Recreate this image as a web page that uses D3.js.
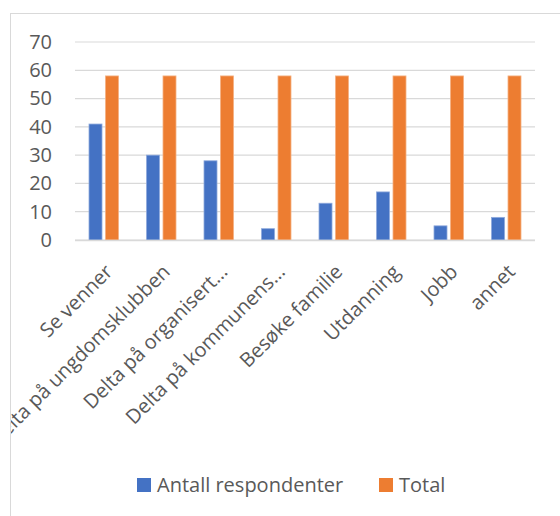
<!DOCTYPE html>
<html><head><meta charset="utf-8">
<script src="https://cdn.jsdelivr.net/npm/d3@7"></script>
<style>body{margin:0;background:#fff;} text{font-family:"Open Sans",sans-serif;}</style>
</head><body>
<svg id="c" width="560" height="516"></svg>
<script>
const categories = ["Se venner","Delta på ungdomsklubben","Delta på organisert…","Delta på kommunens…","Besøke familie","Utdanning","Jobb","annet"];
const seriesNames = ["Antall respondenter","Total"];
const antall = [41,30,28,4,13,17,5,8];
const total = [58,58,58,58,58,58,58,58];
const yTicks = [0,10,20,30,40,50,60,70];
const colors = ["#4472C4","#ED7D31"];

const svg = d3.select("#c");
svg.append("defs").append("clipPath").attr("id","clip")
  .append("rect").attr("x",11).attr("y",14).attr("width",560).attr("height",516);
// chart border
svg.append("line").attr("x1",10.5).attr("x2",10.5).attr("y1",13).attr("y2",516).attr("stroke","#d9d9d9").attr("stroke-width",1);
svg.append("line").attr("x1",10).attr("x2",560).attr("y1",13.5).attr("y2",13.5).attr("stroke","#d9d9d9").attr("stroke-width",1);

const x = d3.scaleBand().domain(categories).range([75,535]);
const y = d3.scaleLinear().domain([0,70]).range([240,42]);

const g = svg.append("g").attr("clip-path","url(#clip)");
// gridlines
g.selectAll(".grid").data(yTicks).join("line")
  .attr("x1",75).attr("x2",535).attr("y1",d=>y(d)).attr("y2",d=>y(d))
  .attr("stroke","#d9d9d9").attr("stroke-width",1.2);
// y labels
const yAxis = d3.axisLeft(y).tickValues(yTicks).tickSize(0).tickPadding(0);
const ya = g.append("g").attr("transform","translate(52,0)").call(yAxis);
ya.select(".domain").remove();
ya.selectAll("text").attr("font-size",20).attr("fill","#595959").attr("font-family","'Open Sans',sans-serif");

const bw = 13, gap = 3.5;
const data = [antall,total];
data.forEach((arr,si)=>{
  g.selectAll(".b"+si).data(arr).join("rect")
    .attr("x",(d,i)=>x(categories[i])+x.bandwidth()/2 - bw - gap/2 + si*(bw+gap))
    .attr("y",d=>y(d)).attr("width",bw).attr("height",d=>y(0)-y(d))
    .attr("fill",colors[si]).attr("stroke",si===0?"#8faadc":"#f4b183").attr("stroke-width",0.8);
});
// axis line
g.append("line").attr("x1",75).attr("x2",535).attr("y1",240.5).attr("y2",240.5).attr("stroke","#d9d9d9").attr("stroke-width",1.5);

// x labels
g.selectAll(".xl").data(categories).join("text")
  .attr("transform",d=>`translate(${x(d)+x.bandwidth()/2},263) rotate(-45)`)
  .attr("text-anchor","end").attr("dy","0.71em")
  .attr("font-size",20).attr("fill","#595959").text(d=>d);

// legend
const leg = svg.append("g");
const items = [{n:seriesNames[0],c:colors[0],x:137},{n:seriesNames[1],c:colors[1],x:379}];
items.forEach(it=>{
  leg.append("rect").attr("x",it.x).attr("y",478).attr("width",14).attr("height",14).attr("fill",it.c);
  leg.append("text").attr("x",it.x+20).attr("y",492).attr("font-size",20).attr("fill","#595959").text(it.n);
});
</script>
</body></html>
